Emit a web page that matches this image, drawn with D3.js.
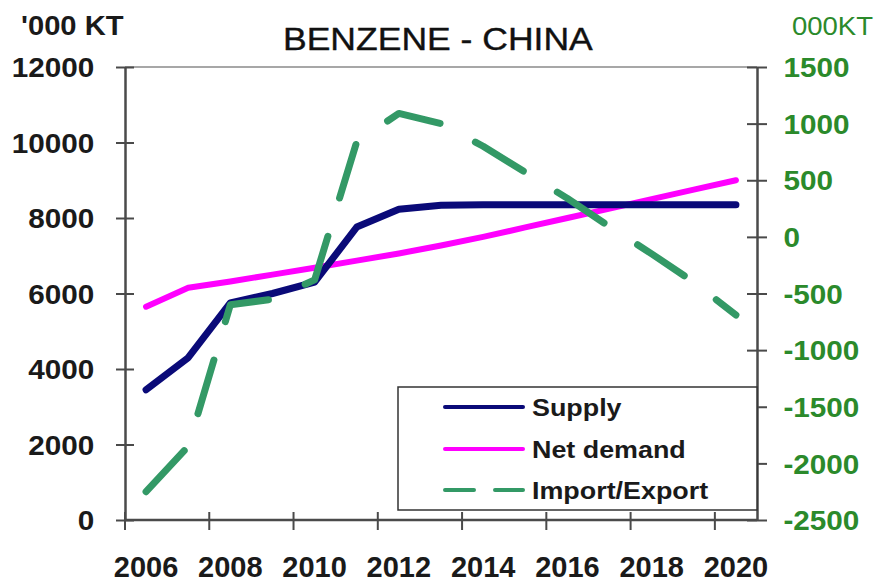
<!DOCTYPE html>
<html><head><meta charset="utf-8">
<script src="https://cdn.jsdelivr.net/npm/d3@7"></script>
<style>
html,body{margin:0;padding:0;background:#fff;}
svg{display:block;font-family:"Liberation Sans",Arial,sans-serif;}
</style></head><body>
<svg id="c" width="880" height="583"></svg>
<script>
const years = [2006,2007,2008,2009,2010,2011,2012,2013,2014,2015,2016,2017,2018,2019,2020];
const supply = [3450,4300,5750,6000,6300,7760,8230,8340,8350,8350,8350,8350,8350,8350,8350];
const netDemand = [5650,6150,6320,6500,6680,6870,7060,7270,7500,7750,8000,8250,8500,8750,9000];
const importExport = [-2250,-1850,-600,-550,-380,840,1090,1000,800,570,340,90,-150,-400,-690];
const leftTicks = [0,2000,4000,6000,8000,10000,12000];
const rightTicks = [-2500,-2000,-1500,-1000,-500,0,500,1000,1500];
const xLabelYears = [2006,2008,2010,2012,2014,2016,2018,2020];
const seriesNames = ["Supply","Net demand","Import/Export"];

const svg = d3.select("#c");
const L = 125, R = 757, T = 67, B = 520;
const x = d3.scaleBand().domain(years).range([L, R]).paddingInner(0).paddingOuter(0);
const cx = d => x(d) + x.bandwidth()/2;
const yL = d3.scaleLinear().domain([0,12000]).range([B, T]);
const yR = d3.scaleLinear().domain([-2500,1500]).range([B, T]);
const axisCol = "#4a4a4a";
const green = "#2b8a2b";
const fmt = d => String(d);

// top border
svg.append("line").attr("x1",L).attr("x2",R).attr("y1",T).attr("y2",T)
  .attr("stroke","#8a8a8a").attr("stroke-width",1.5);

// left axis
const gL = svg.append("g").attr("transform",`translate(${L},0)`)
  .call(d3.axisLeft(yL).tickValues(leftTicks).tickFormat(fmt).tickSizeOuter(0));
gL.select(".domain").attr("stroke",axisCol).attr("stroke-width",2.5);
gL.selectAll(".tick line").attr("x1",9).attr("x2",-9).attr("stroke",axisCol).attr("stroke-width",2);
gL.selectAll(".tick text").attr("x",-28).attr("dy","0.36em").attr("fill","#1a1a1a")
  .attr("font-size",27).attr("font-weight","bold").attr("font-family","Liberation Sans, Arial")
  .attr("transform","scale(1.1,1)");

// right axis
const gR = svg.append("g").attr("transform",`translate(${R},0)`)
  .call(d3.axisRight(yR).tickValues(rightTicks).tickFormat(fmt).tickSizeOuter(0));
gR.select(".domain").attr("stroke",axisCol).attr("stroke-width",2.5);
gR.selectAll(".tick line").attr("x1",-10).attr("x2",10).attr("stroke",axisCol).attr("stroke-width",2);
gR.selectAll(".tick text").attr("x",24).attr("dy","0.36em").attr("fill",green)
  .attr("font-size",27).attr("font-weight","bold").attr("font-family","Liberation Sans, Arial")
  .attr("transform","scale(1.1,1)");

// bottom axis
svg.append("line").attr("x1",L).attr("x2",R).attr("y1",B).attr("y2",B)
  .attr("stroke",axisCol).attr("stroke-width",2.5);
svg.append("g").selectAll("line").data(xLabelYears).join("line")
  .attr("x1",d=>x(d)).attr("x2",d=>x(d)).attr("y1",B-8).attr("y2",B+10)
  .attr("stroke",axisCol).attr("stroke-width",2);
svg.append("g").selectAll("text").data(xLabelYears).join("text")
  .attr("transform",d=>`translate(${cx(d)},577)`)
  .attr("text-anchor","middle").attr("font-size",29).attr("font-weight","bold").attr("fill","#1a1a1a")
  .text(d=>d);

// titles
svg.append("text").attr("transform","translate(21,35) scale(1.08,1)").attr("font-size",27).attr("font-weight","bold")
  .attr("fill","#1a1a1a").text("'000 KT");
svg.append("text").attr("transform","translate(283,50) scale(1.11,1)").attr("font-size",32)
  .attr("fill","#111").attr("stroke","#111").attr("stroke-width",0.4).text("BENZENE - CHINA");
svg.append("text").attr("transform","translate(792,35) scale(1.1,1)").attr("font-size",25)
  .attr("fill",green).text("000KT");

// lines
const lineL = d3.line().x((d,i)=>cx(years[i])).y(d=>yL(d));
const lineR = d3.line().x((d,i)=>cx(years[i])).y(d=>yR(d));
svg.append("path").datum(netDemand).attr("d",lineL).attr("fill","none")
  .attr("stroke","#ff00ff").attr("stroke-width",6).attr("stroke-linejoin","round").attr("stroke-linecap","round");
svg.append("path").datum(supply).attr("d",lineL).attr("fill","none")
  .attr("stroke","#0a0a78").attr("stroke-width",7).attr("stroke-linejoin","round").attr("stroke-linecap","round");
svg.append("path").datum(importExport).attr("d",lineR).attr("fill","none")
  .attr("stroke","#339966").attr("stroke-width",7).attr("stroke-dasharray","56,40")
  .attr("stroke-linejoin","round").attr("stroke-linecap","round");

// legend
const lg = svg.append("g");
lg.append("rect").attr("x",398).attr("y",387).attr("width",R-398).attr("height",123)
  .attr("fill","#fff").attr("stroke","#333").attr("stroke-width",1.5);
const lgStyles = [
  {c:"#0a0a78", w:4, dash:null},
  {c:"#ff00ff", w:4, dash:null},
  {c:"#339966", w:4, dash:"29,21"}
];
const lgY = [407,449,490];
seriesNames.forEach((n,i)=>{
  const l = lg.append("line").attr("x1",445).attr("x2",523).attr("y1",lgY[i]).attr("y2",lgY[i])
    .attr("stroke",lgStyles[i].c).attr("stroke-width",lgStyles[i].w).attr("stroke-linecap","round");
  if (lgStyles[i].dash) l.attr("stroke-dasharray",lgStyles[i].dash);
  lg.append("text").attr("transform",`translate(532,${lgY[i]+8.5}) scale(1.12,1)`)
    .attr("font-size",24).attr("font-weight","bold").attr("fill","#1a1a1a").text(n);
});
</script>
</body></html>
